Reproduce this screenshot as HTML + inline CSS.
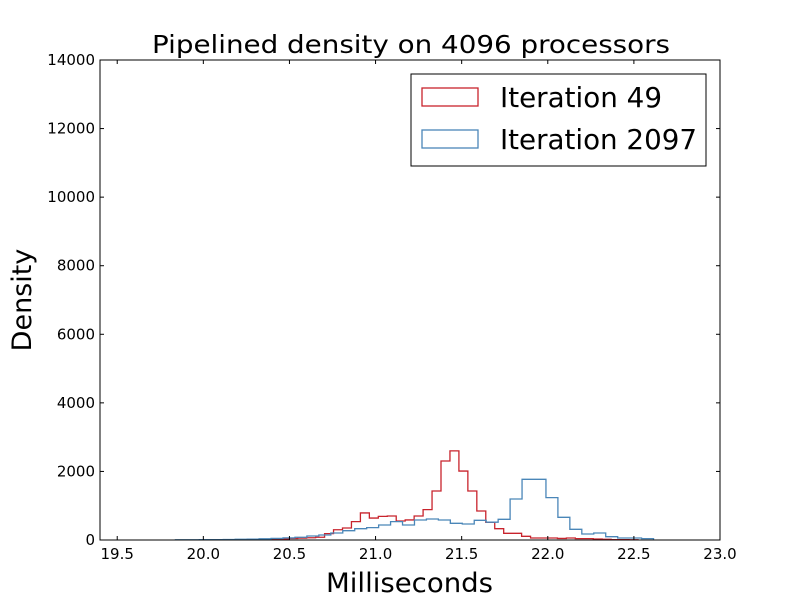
<!DOCTYPE html>
<html><head><meta charset="utf-8"><style>
html,body{margin:0;padding:0;background:#fff;}
svg{display:block;font-family:"DejaVu Sans","Liberation Sans",sans-serif;}
</style></head><body>
<svg id="c" width="800" height="600"></svg>
<script>
const xTicks=[19.5,20.0,20.5,21.0,21.5,22.0,22.5,23.0];
const xTickLabels=["19.5","20.0","20.5","21.0","21.5","22.0","22.5","23.0"];
const yTicks=[0,2000,4000,6000,8000,10000,12000,14000];
const yTickLabels=["0","2000","4000","6000","8000","10000","12000","14000"];
const redStart=20.028, redWidth=0.052;
const redValues=[5,5,8,10,10,15,20,25,35,45,55,65,80,185,300,350,535,790,640,690,700,555,585,700,885,1430,2305,2600,2010,1430,845,515,330,195,195,108,58,58,58,45,58,40,40,30,20,12,10,5];
const blueStart=19.838, blueWidth=0.0694;
const blueValues=[5,8,10,12,15,20,25,35,45,60,80,117,146,204,272,330,360,437,535,437,583,612,583,486,467,574,520,603,1196,1770,1770,1235,662,312,175,204,96,58,58,40];
const svg=document.getElementById('c');
const NS='http://www.w3.org/2000/svg';
const L=100,R=720,T=60,B=540;
const xMin=19.4,xMax=23.0,yMin=0,yMax=14000;
const X=v=>L+(v-xMin)/(xMax-xMin)*(R-L);
const Y=v=>B-(v-yMin)/(yMax-yMin)*(B-T);
function mk(tag,attrs,name,txt){const e=document.createElementNS(NS,tag);for(const k in attrs)e.setAttribute(k,attrs[k]);


if(txt!==undefined)e.textContent=txt;svg.appendChild(e);return e;}
mk('rect',{x:0,y:0,width:800,height:600,fill:'#fff'},'background');
function step(start,w,vals,color,name){let d='M'+X(start)+','+Y(0);
vals.forEach((v,i)=>{d+=' L'+X(start+i*w)+','+Y(v)+' L'+X(start+(i+1)*w)+','+Y(v);});
d+=' L'+X(start+vals.length*w)+','+Y(0);
mk('path',{d:d,fill:'none',stroke:color,'stroke-width':1.3},name);}
step(redStart,redWidth,redValues,'#c8232c','series-iteration-49');
step(blueStart,blueWidth,blueValues,'#4a86b8','series-iteration-2097');
mk('rect',{x:L,y:T,width:R-L,height:B-T,fill:'none',stroke:'#000','stroke-width':1},'plot-frame');
xTicks.forEach((t,i)=>{const x=X(t);
mk('line',{x1:x,y1:B,x2:x,y2:B-4,stroke:'#000'},'x-tick');
mk('line',{x1:x,y1:T,x2:x,y2:T+4,stroke:'#000'},'x-tick-top');
mk('text',{x:x,y:B+19,'text-anchor':'middle','font-size':15},'x-tick-label',xTickLabels[i]);});
yTicks.forEach((t,i)=>{const y=Y(t);
mk('line',{x1:L,y1:y,x2:L+4,y2:y,stroke:'#000'},'y-tick');
mk('line',{x1:R,y1:y,x2:R-4,y2:y,stroke:'#000'},'y-tick-right');
mk('text',{x:L-5,y:y+5,'text-anchor':'end','font-size':15},'y-tick-label',yTickLabels[i]);});
mk('text',{x:152,y:53,'font-size':25,textLength:518,lengthAdjust:'spacingAndGlyphs'},'chart-title','Pipelined density on 4096 processors');
mk('text',{x:326,y:592,'font-size':27,textLength:167,lengthAdjust:'spacingAndGlyphs'},'x-axis-title','Milliseconds');
mk('text',{x:31,y:300,'font-size':27,transform:'rotate(-90 31 300)','text-anchor':'middle'},'y-axis-title','Density');
mk('rect',{x:411,y:74,width:295,height:92,fill:'#fff',stroke:'#000'},'legend-box');
mk('rect',{x:422,y:88,width:56,height:18,fill:'none',stroke:'#c8232c','stroke-width':1.3},'legend-swatch-49');
mk('text',{x:500,y:107,'font-size':28,textLength:162,lengthAdjust:'spacingAndGlyphs'},'legend-label-49','Iteration 49');
mk('rect',{x:422,y:130,width:56,height:18,fill:'none',stroke:'#4a86b8','stroke-width':1.3},'legend-swatch-2097');
mk('text',{x:500,y:149,'font-size':28,textLength:197,lengthAdjust:'spacingAndGlyphs'},'legend-label-2097','Iteration 2097');
</script>
</body></html>
